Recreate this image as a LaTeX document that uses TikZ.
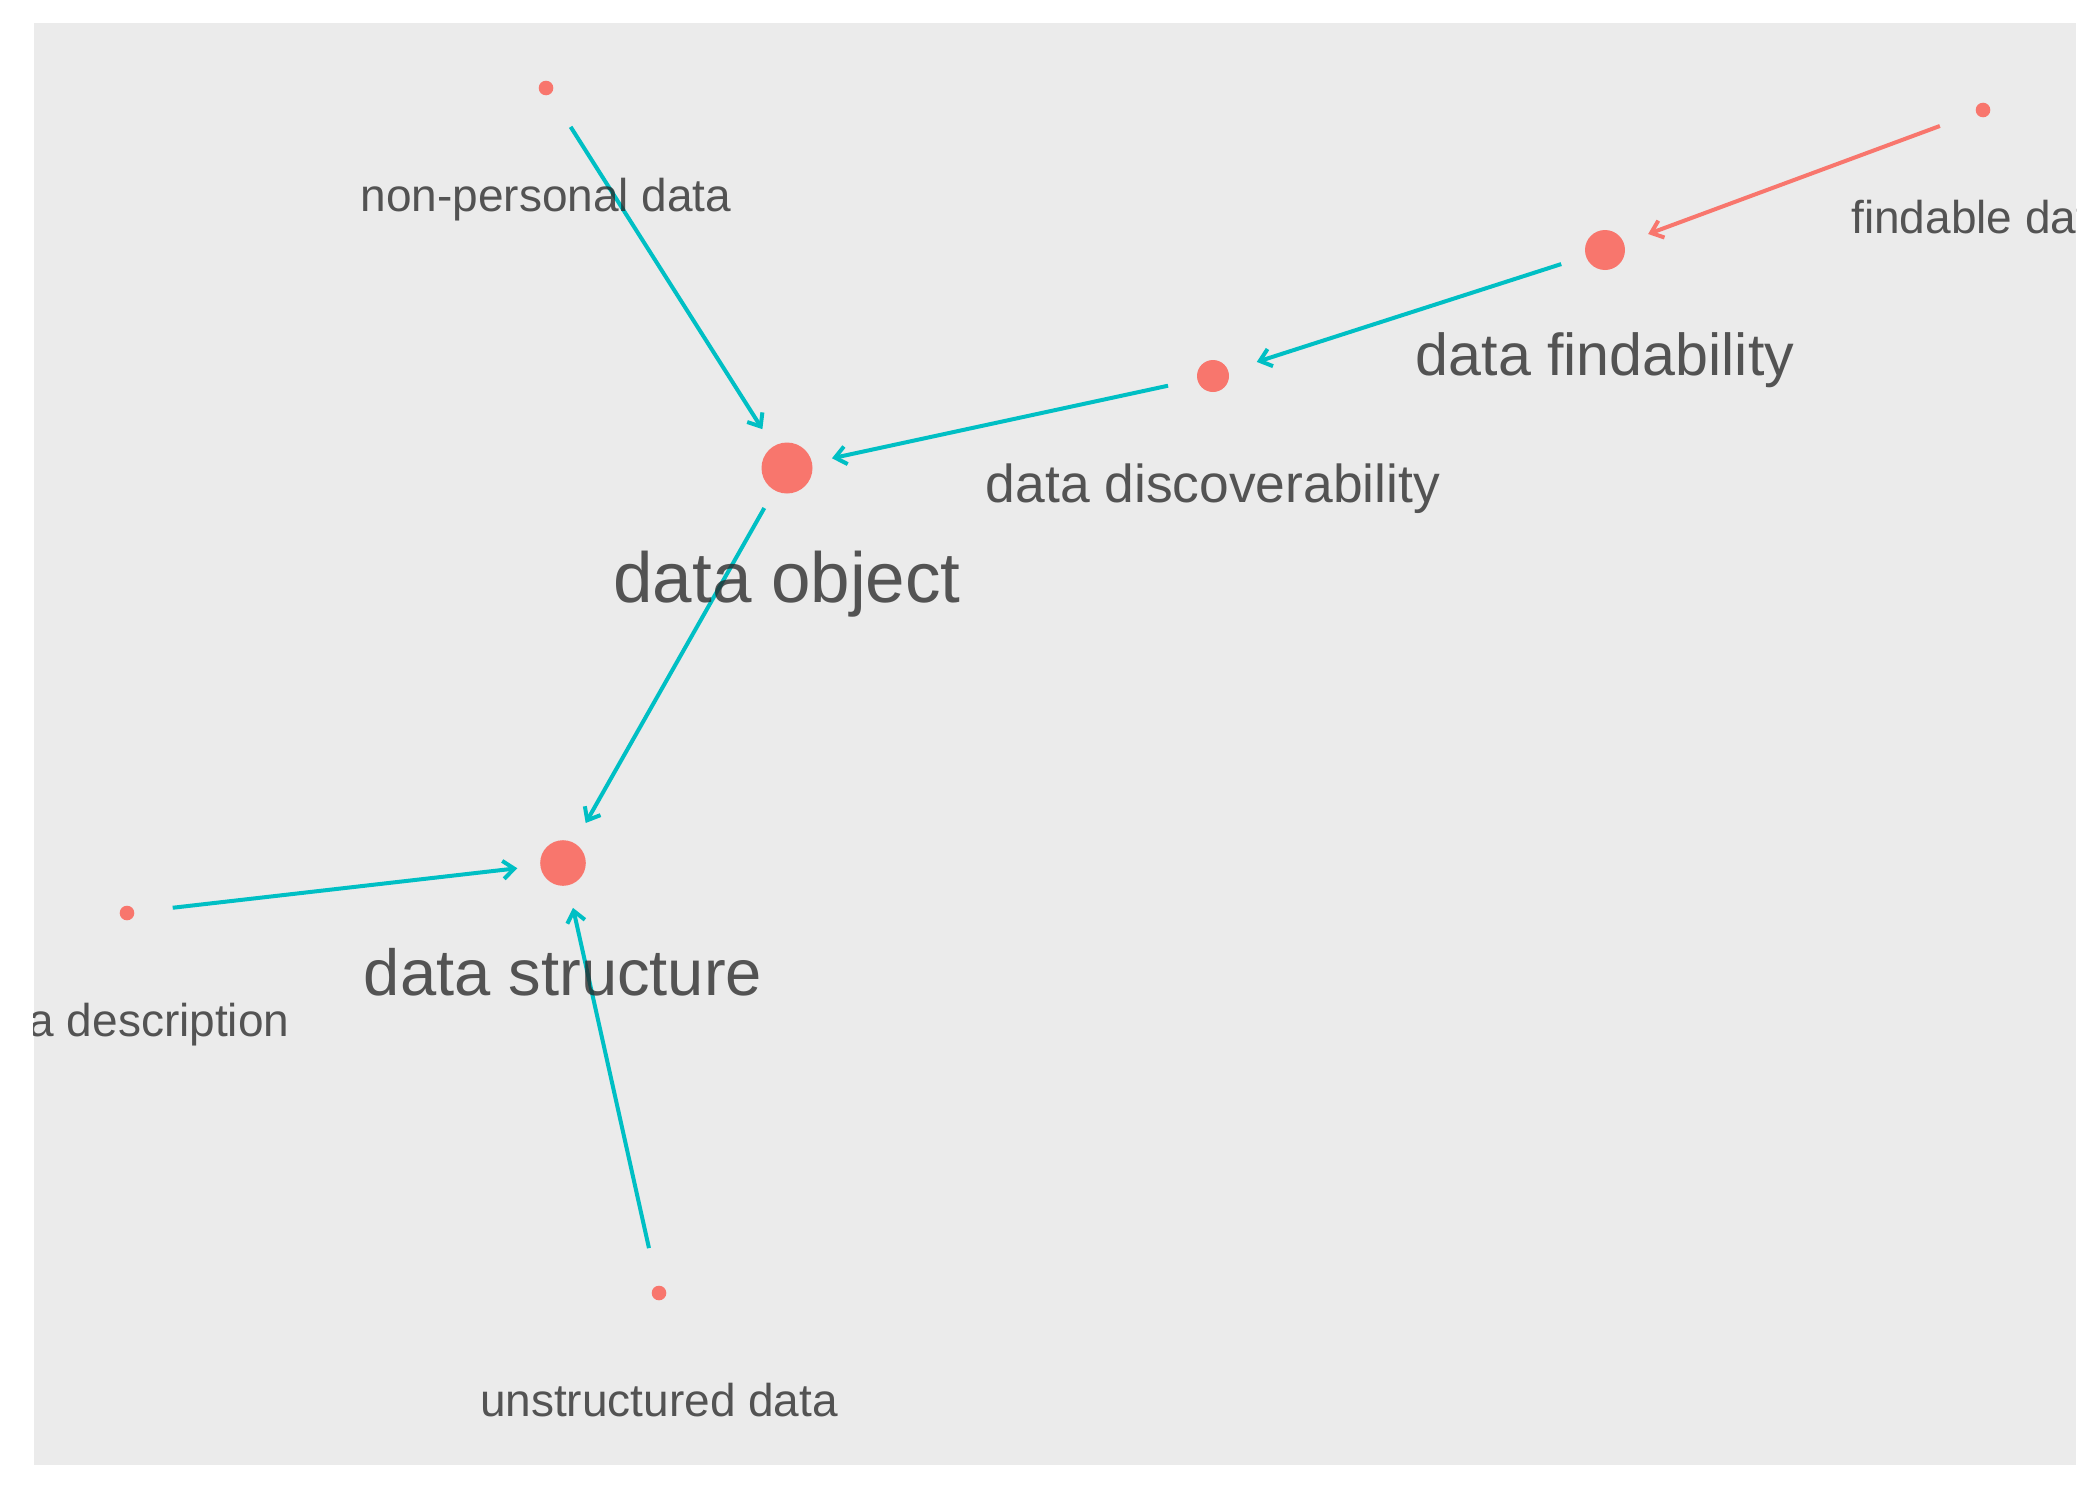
\documentclass[tikz,border=0pt]{standalone}
\usepackage{fontspec}
\setmainfont{Liberation Sans}
\usetikzlibrary{arrows.meta}
\definecolor{panelgray}{HTML}{EBEBEB}
\definecolor{dotred}{HTML}{F8766D}
\definecolor{edgeteal}{HTML}{00BFC4}
\begin{document}
\begin{tikzpicture}[x=0.5pt,y=-0.5pt,
  dot/.style={circle,fill=dotred,draw=none,inner sep=0pt},
  lbl/.style={anchor=base,text=black!85,text opacity=0.77,inner sep=0pt},
  leaf/.style={lbl,font=\fontsize{23}{27}\selectfont},
  linkedge/.style={line width=2pt,edgeteal,shorten <=23pt,shorten >=23pt,
    -{Straight Barb[length=5.5pt,width=9pt]}},
  rededge/.style={linkedge,dotred}]
\useasboundingbox (0,0) rectangle (2100,1499);
\fill[panelgray] (33.5,22.7) rectangle (2076,1465);
% nodes (dots)
\node[dot,minimum size=7.3pt] (np) at (546,88) {};
\node[dot,minimum size=7.3pt] (fd) at (1983,110) {};
\node[dot,minimum size=20pt] (fi) at (1605,250) {};
\node[dot,minimum size=16pt] (di) at (1213,376) {};
\node[dot,minimum size=25.5pt] (ob) at (787,468) {};
\node[dot,minimum size=22.8pt] (st) at (563,863) {};
\node[dot,minimum size=7.3pt] (de) at (127,913) {};
\node[dot,minimum size=7.3pt] (un) at (659,1293) {};
% edges
\draw[linkedge] (np.center) -- (ob.center);
\draw[rededge] (fd.center) -- (fi.center);
\draw[linkedge] (fi.center) -- (di.center);
\draw[linkedge] (di.center) -- (ob.center);
\draw[linkedge] (ob.center) -- (st.center);
\draw[linkedge] (de.center) -- (st.center);
\draw[linkedge] (un.center) -- (st.center);
% labels
\begin{scope}
\clip (33.5,22.7) rectangle (2076,1465);
\node[leaf] (npl) at (546,211) {non-personal data};
\node[leaf] (fdl) at (1983,233) {findable data};
\node[lbl,font=\fontsize{29.6}{35}\selectfont] (fil) at (1605,375) {data findability};
\node[lbl,font=\fontsize{26.7}{32}\selectfont] (dil) at (1213,502) {data discoverability};
\node[lbl,font=\fontsize{35.5}{42}\selectfont] (obl) at (787,602) {data object};
\node[lbl,font=\fontsize{32.55}{39}\selectfont] (stl) at (563,995) {data structure};
\node[leaf] (del) at (127,1036) {data description};
\node[leaf] (unl) at (659,1416) {unstructured data};
\end{scope}
\end{tikzpicture}
\end{document}
